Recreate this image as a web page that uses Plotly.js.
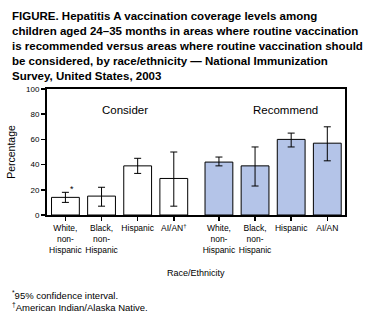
<!DOCTYPE html>
<html>
<head>
<meta charset="utf-8">
<script src="https://cdn.plot.ly/plotly-3.0.1.min.js"></script>
<style>
html,body{margin:0;padding:0;background:#fff;}
#chart{width:368px;height:321px;}
</style>
</head>
<body>
<div id="chart"></div>
<script>
// ---- data ----
const considerLabels = ["White,<br>non-<br>Hispanic", "Black,<br>non-<br>Hispanic", "Hispanic", "AI/AN<sup>†</sup>"];
const recommendLabels = ["White,<br>non-<br>Hispanic", "Black,<br>non-<br>Hispanic", "Hispanic", "AI/AN"];
const considerValues = [14, 15, 39, 29];
const considerLow = [10, 7, 33, 7];
const considerHigh = [18, 22, 45, 50];
const recommendValues = [42, 39, 60, 57];
const recommendLow = [39, 23, 54, 43];
const recommendHigh = [46, 54, 65, 70];
const yTicks = [0, 20, 40, 60, 80, 100];
const titleLines = [
  "FIGURE. Hepatitis A vaccination coverage levels among",
  "children aged 24–35 months in areas where routine vaccination",
  "is recommended versus areas where routine vaccination should",
  "be considered, by race/ethnicity — National Immunization",
  "Survey, United States, 2003"
];
const footnotes = ["<sup>*</sup>95% confidence interval.", "<sup>†</sup>American Indian/Alaska Native."];

// ---- layout helpers ----
const groupGap = 0.25;
const xConsider = considerValues.map((v, i) => i);
const xRecommend = recommendValues.map((v, i) => i + considerValues.length + groupGap);
const font = "Arial, 'Liberation Sans', Helvetica, sans-serif";

const traces = [
  {
    type: "bar", x: xConsider, y: considerValues, width: 0.77,
    marker: {color: "#ffffff", line: {color: "#000", width: 1}},
    error_y: {type: "data", symmetric: false,
      array: considerHigh.map((h, i) => h - considerValues[i]),
      arrayminus: considerValues.map((v, i) => v - considerLow[i]),
      color: "#000", thickness: 1, width: 3.5},
    hoverinfo: "skip", showlegend: false
  },
  {
    type: "bar", x: xRecommend, y: recommendValues, width: 0.77,
    marker: {color: "#b4c4e8", line: {color: "#000", width: 1}},
    error_y: {type: "data", symmetric: false,
      array: recommendHigh.map((h, i) => h - recommendValues[i]),
      arrayminus: recommendValues.map((v, i) => v - recommendLow[i]),
      color: "#000", thickness: 1, width: 3.5},
    hoverinfo: "skip", showlegend: false
  }
];

const annotations = [];
annotations.push({
  xref: "paper", yref: "paper", x: -0.123, y: 1.0, yshift: 81,
  xanchor: "left", yanchor: "top", align: "left", showarrow: false,
  text: titleLines.map(l => "<b>" + l + "</b>").join("<br>"),
  font: {family: font, size: 11.5, color: "#000"}
});
annotations.push({
  x: (xConsider[0] + xConsider[3]) / 2 + 0.15, y: 83, xref: "x", yref: "y",
  text: "Consider", showarrow: false, font: {family: font, size: 11.5, color: "#000"}
});
annotations.push({
  x: (xRecommend[0] + xRecommend[3]) / 2 + 0.35, y: 83, xref: "x", yref: "y",
  text: "Recommend", showarrow: false, font: {family: font, size: 11.5, color: "#000"}
});
annotations.push({
  x: xConsider[0], y: considerHigh[0], xref: "x", yref: "y", xshift: 7, yshift: 3,
  text: "*", showarrow: false, font: {family: font, size: 9, color: "#000"}
});
annotations.push({
  xref: "paper", yref: "paper", x: 0.5, y: 0, yshift: -58,
  xanchor: "center", yanchor: "middle", showarrow: false,
  text: "Race/Ethnicity", font: {family: font, size: 9, color: "#000"}
});
annotations.push({
  xref: "paper", yref: "paper", x: -0.123, y: 0, yshift: -72,
  xanchor: "left", yanchor: "top", align: "left", showarrow: false,
  text: footnotes.join("<br>"), font: {family: font, size: 9.5, color: "#000"}
});

const layout = {
  width: 368, height: 321,
  margin: {l: 47, r: 23, t: 89, b: 106, pad: 0},
  paper_bgcolor: "#fff", plot_bgcolor: "#fff",
  bargap: 0,
  xaxis: {
    range: [-0.51, xRecommend[3] + 0.49],
    tickvals: xConsider.concat(xRecommend),
    ticktext: considerLabels.concat(recommendLabels),
    ticks: "outside", ticklen: 4, tickwidth: 1.5, tickcolor: "#000",
    showline: true, linecolor: "#000", linewidth: 2, mirror: true,
    showgrid: false, zeroline: false,
    tickfont: {family: font, size: 8.5, color: "#000"},
    fixedrange: true
  },
  yaxis: {
    range: [0, 100],
    tickvals: yTicks,
    ticks: "outside", ticklen: 4, tickwidth: 1.5, tickcolor: "#000",
    showline: true, linecolor: "#000", linewidth: 2, mirror: true,
    showgrid: false, zeroline: false,
    tickfont: {family: font, size: 8, color: "#000"},
    title: {text: "Percentage", font: {family: font, size: 10.5, color: "#000"}, standoff: 8},
    fixedrange: true
  },
  annotations: annotations
};

Plotly.newPlot("chart", traces, layout, {displayModeBar: false, staticPlot: true});
</script>
</body>
</html>
